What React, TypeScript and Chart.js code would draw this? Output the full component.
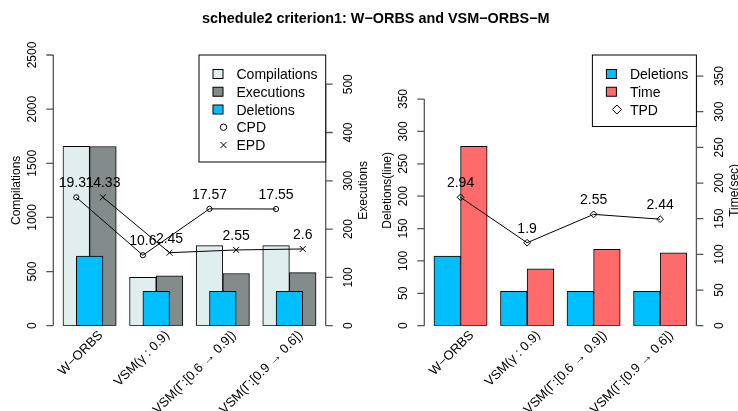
import React, { useEffect, useRef } from 'react';
import { Chart, registerables } from 'chart.js';

Chart.register(...registerables);

// ---------------- data ----------------
const categories = ['W−ORBS', 'VSM(γ : 0.9)', 'VSM(Γ:[0.6 → 0.9])', 'VSM(Γ:[0.9 → 0.6])'];

// left panel
const compilations = [1657, 447, 739, 739];
const executions = [371, 103, 108, 110];
const deletionsCount = [644, 318, 318, 318];
const cpdValues = [19.31, 10.6, 17.57, 17.55];
const epdValues = [14.33, 2.45, 2.55, 2.6];
// heights at which the EPD markers are plotted (on the CPD scale)
const epdPlotted = [19.31, 10.98, 11.39, 11.54];

// right panel
const deletionsLines = [107.6, 53, 53, 53];
const timeSec = [251.5, 79.9, 107.1, 102.3];
const tpdValues = [2.94, 1.9, 2.55, 2.44];

// tick labels
const compTicks = [0, 500, 1000, 1500, 2000, 2500];
const execTicks = [0, 100, 200, 300, 400, 500];
const delTicks = [0, 50, 100, 150, 200, 250, 300, 350];
const timeTicks = [0, 50, 100, 150, 200, 250, 300, 350];

// ---------------- style ----------------
const FONT = '"Liberation Sans", Arial, Helvetica, sans-serif';
const AXIS_COLOR = '#555';
const GROUP_PCT = 0.8;
const SHIFT = GROUP_PCT / 4;
const W = 369;
const H = 411;
const PAD_TOP = 55;
const PAD_BOTTOM = H - 325.7;

type LegendItem = { label: string; fill?: string; sym?: 'circle' | 'cross' | 'diamond' };

function drawSymbol(ctx: CanvasRenderingContext2D, sym: string, x: number, y: number, r: number) {
  ctx.beginPath();
  if (sym === 'circle') {
    ctx.arc(x, y, r, 0, Math.PI * 2);
  } else if (sym === 'cross') {
    ctx.moveTo(x - r, y - r); ctx.lineTo(x + r, y + r);
    ctx.moveTo(x - r, y + r); ctx.lineTo(x + r, y - r);
  } else {
    ctx.moveTo(x - r, y); ctx.lineTo(x, y - r); ctx.lineTo(x + r, y); ctx.lineTo(x, y + r); ctx.closePath();
  }
  ctx.stroke();
}

function rText(ctx: CanvasRenderingContext2D, text: string, x: number, y: number, size: number, angle: number, align: CanvasTextAlign) {
  ctx.save();
  ctx.translate(x, y);
  ctx.rotate(angle);
  ctx.textAlign = align;
  ctx.textBaseline = 'alphabetic';
  ctx.font = `${size}px ${FONT}`;
  ctx.fillText(text, 0, 0.358 * size);
  ctx.restore();
}

function makePlugin(cfg: {
  leftScale: string; rightScale: string; leftTicks: number[]; rightTicks: number[];
  leftTitle: string; rightTitle: string; legend: LegendItem[]; legendWidth: number;
  labelSets: { ds: number; values: number[] }[];
}) {
  return {
    id: 'rstyle',
    afterDraw(chart: any) {
      const ctx: CanvasRenderingContext2D = chart.ctx;
      const ca = chart.chartArea;
      const axL = ca.left - 3;
      const axR = ca.right + 3;
      ctx.save();
      ctx.fillStyle = '#000';
      const drawAxis = (scale: any, x: number, side: number, ticks: number[], title: string) => {
        const y0 = scale.getPixelForValue(ticks[0]);
        const y1 = scale.getPixelForValue(ticks[ticks.length - 1]);
        ctx.strokeStyle = AXIS_COLOR;
        ctx.lineWidth = 1.3;
        ctx.beginPath();
        ctx.moveTo(x, y0); ctx.lineTo(x, y1);
        for (const t of ticks) {
          const y = scale.getPixelForValue(t);
          ctx.moveTo(x, y); ctx.lineTo(x + side * 7, y);
        }
        ctx.stroke();
        ctx.fillStyle = '#000';
        for (const t of ticks) {
          rText(ctx, String(t), x + side * 22, scale.getPixelForValue(t), 12, -Math.PI / 2, 'center');
        }
        rText(ctx, title, x + side * 37.5, (ca.top + ca.bottom) / 2, 12, -Math.PI / 2, 'center');
      };
      drawAxis(chart.scales[cfg.leftScale], axL, -1, cfg.leftTicks, cfg.leftTitle);
      drawAxis(chart.scales[cfg.rightScale], axR, 1, cfg.rightTicks, cfg.rightTitle);

      // x labels
      const xs = chart.scales.x;
      ctx.fillStyle = '#000';
      chart.data.labels.forEach((lab: string, i: number) => {
        rText(ctx, lab, xs.getPixelForValue(i) + 10.5, ca.bottom + 6.8, 13, -Math.PI / 4, 'right');
      });

      // data labels
      for (const set of cfg.labelSets) {
        const meta = chart.getDatasetMeta(set.ds);
        meta.data.forEach((pt: any, i: number) => {
          ctx.font = `14px ${FONT}`;
          ctx.textAlign = 'center';
          ctx.textBaseline = 'alphabetic';
          ctx.fillText(String(set.values[i]), pt.x, pt.y - 15 + 0.358 * 14);
        });
      }

      // legend
      const n = cfg.legend.length;
      const bx1 = axR;
      const bx0 = axR - cfg.legendWidth;
      const by0 = ca.top;
      const rowH = 17.75;
      const by1 = by0 + 19 + (n - 1) * rowH + 17;
      ctx.fillStyle = '#fff';
      ctx.fillRect(bx0, by0, bx1 - bx0, by1 - by0);
      ctx.strokeStyle = '#000';
      ctx.lineWidth = 1;
      ctx.strokeRect(bx0, by0, bx1 - bx0, by1 - by0);
      cfg.legend.forEach((it, k) => {
        const cy = by0 + 19 + k * rowH;
        ctx.strokeStyle = '#000';
        ctx.lineWidth = 1;
        if (it.fill) {
          ctx.fillStyle = it.fill;
          ctx.fillRect(bx0 + 14, cy - 4.5, 10, 9);
          ctx.strokeRect(bx0 + 14, cy - 4.5, 10, 9);
        } else if (it.sym) {
          drawSymbol(ctx, it.sym, bx0 + 24.5, cy, it.sym === 'circle' ? 3.2 : it.sym === 'cross' ? 3 : 4.5);
        }
        ctx.fillStyle = '#000';
        ctx.font = `14px ${FONT}`;
        ctx.textAlign = 'left';
        ctx.textBaseline = 'alphabetic';
        ctx.fillText(it.label, bx0 + 37.5, cy + 0.358 * 14);
      });
      ctx.restore();
    },
  };
}

const barStyle = { borderColor: '#000', borderWidth: 1, borderSkipped: false as const };

// bar thickness from the category width of the plot area
function barWidth(padLeft: number, padRight: number) {
  return ((W - padLeft - padRight) / categories.length) * (GROUP_PCT / 2);
}

function commonOptions(padLeft: number, padRight: number, yMax: number, y2Max: number, ylMax: number) {
  return {
    responsive: false,
    animation: false as const,
    devicePixelRatio: 1,
    events: [] as any[],
    layout: { padding: { left: padLeft, right: padRight, top: PAD_TOP, bottom: PAD_BOTTOM } },
    plugins: { legend: { display: false }, tooltip: { enabled: false }, title: { display: false } },
    scales: {
      x: { type: 'category' as const, offset: true, display: false },
      xd: { type: 'category' as const, offset: true, display: false },
      xl: { type: 'linear' as const, min: -0.5, max: 3.5, offset: false, display: false },
      y: { type: 'linear' as const, min: 0, max: yMax, display: false },
      y2: { type: 'linear' as const, min: 0, max: y2Max, display: false, position: 'right' as const },
      yl: { type: 'linear' as const, min: 0, max: ylMax, display: false },
    },
  };
}

const LP = { left: 56.3, right: W - 322.7 };
const RP = { left: 58.3, right: W - 324.4 };

function leftConfig(): any {
  const bw = barWidth(LP.left, LP.right);
  return {
    type: 'bar',
    data: {
      labels: categories,
      datasets: [
        {
          type: 'line', label: 'CPD', xAxisID: 'xl', yAxisID: 'yl', order: 0,
          data: cpdValues.map((v, i) => ({ x: i - SHIFT, y: v })),
          borderColor: '#000', borderWidth: 1, pointStyle: 'circle', pointRadius: 2.6,
          pointBackgroundColor: 'rgba(0,0,0,0)', pointBorderColor: '#000', pointBorderWidth: 1,
        },
        {
          type: 'line', label: 'EPD', xAxisID: 'xl', yAxisID: 'yl', order: 0,
          data: epdPlotted.map((v, i) => ({ x: i + SHIFT, y: v })),
          borderColor: '#000', borderWidth: 1, pointStyle: 'crossRot', pointRadius: 4.2,
          pointBackgroundColor: 'rgba(0,0,0,0)', pointBorderColor: '#000', pointBorderWidth: 1,
        },
        {
          label: 'Deletions', data: deletionsCount, xAxisID: 'xd', yAxisID: 'y', order: 1,
          backgroundColor: '#00BFFF', barThickness: bw, ...barStyle,
        },
        {
          label: 'Compilations', data: compilations, xAxisID: 'x', yAxisID: 'y', order: 2,
          backgroundColor: '#E0EEEE', barThickness: bw, ...barStyle,
        },
        {
          label: 'Executions', data: executions, xAxisID: 'x', yAxisID: 'y2', order: 2,
          backgroundColor: '#838B8B', barThickness: bw, ...barStyle,
        },
      ],
    },
    options: commonOptions(LP.left, LP.right, 2500, 560.5, 40.71),
    plugins: [
      makePlugin({
        leftScale: 'y', rightScale: 'y2', leftTicks: compTicks, rightTicks: execTicks,
        leftTitle: 'Compilations', rightTitle: 'Executions', legendWidth: 126.7,
        legend: [
          { label: 'Compilations', fill: '#E0EEEE' },
          { label: 'Executions', fill: '#838B8B' },
          { label: 'Deletions', fill: '#00BFFF' },
          { label: 'CPD', sym: 'circle' },
          { label: 'EPD', sym: 'cross' },
        ],
        labelSets: [{ ds: 0, values: cpdValues }, { ds: 1, values: epdValues }],
      }),
    ],
  };
}

function rightConfig(): any {
  const bw = barWidth(RP.left, RP.right);
  return {
    type: 'bar',
    data: {
      labels: categories,
      datasets: [
        {
          type: 'line', label: 'TPD', xAxisID: 'xl', yAxisID: 'yl', order: 0,
          data: tpdValues.map((v, i) => ({ x: i, y: v })),
          borderColor: '#000', borderWidth: 1, pointStyle: 'rectRot', pointRadius: 3.4,
          pointBackgroundColor: 'rgba(0,0,0,0)', pointBorderColor: '#000', pointBorderWidth: 1,
        },
        {
          label: 'Deletions', data: deletionsLines, xAxisID: 'x', yAxisID: 'y', order: 2,
          backgroundColor: '#00BFFF', barThickness: bw, ...barStyle,
        },
        {
          label: 'Time', data: timeSec, xAxisID: 'x', yAxisID: 'y2', order: 2,
          backgroundColor: '#FF6A6A', barThickness: bw, ...barStyle,
        },
      ],
    },
    options: commonOptions(RP.left, RP.right, 418, 379.5, 6.2),
    plugins: [
      makePlugin({
        leftScale: 'y', rightScale: 'y2', leftTicks: delTicks, rightTicks: timeTicks,
        leftTitle: 'Deletions(line)', rightTitle: 'Time(sec)', legendWidth: 104,
        legend: [
          { label: 'Deletions', fill: '#00BFFF' },
          { label: 'Time', fill: '#FF6A6A' },
          { label: 'TPD', sym: 'diamond' },
        ],
        labelSets: [{ ds: 0, values: tpdValues }],
      }),
    ],
  };
}

export default function App() {
  const leftRef = useRef<HTMLCanvasElement>(null);
  const rightRef = useRef<HTMLCanvasElement>(null);

  useEffect(() => {
    const c1 = new Chart(leftRef.current as HTMLCanvasElement, leftConfig());
    const c2 = new Chart(rightRef.current as HTMLCanvasElement, rightConfig());
    return () => {
      c1.destroy();
      c2.destroy();
    };
  }, []);

  return (
    <div style={{ position: 'fixed', left: 0, top: 0, width: 738, height: 411, background: '#fff', overflow: 'hidden' }}>
      <div style={{ position: 'absolute', left: 0, top: 0, width: W, height: H }}>
        <canvas ref={leftRef} width={W} height={H} style={{ width: W, height: H, display: 'block' }} />
      </div>
      <div style={{ position: 'absolute', left: W, top: 0, width: W, height: H }}>
        <canvas ref={rightRef} width={W} height={H} style={{ width: W, height: H, display: 'block' }} />
      </div>
      <div
        style={{
          position: 'absolute', left: 375.8, top: 10.5, transform: 'translateX(-50%)', whiteSpace: 'nowrap',
          font: `bold 14.4px ${FONT}`, lineHeight: '14.4px', color: '#000',
        }}
      >
        schedule2 criterion1: W−ORBS and VSM−ORBS−M
      </div>
    </div>
  );
}
